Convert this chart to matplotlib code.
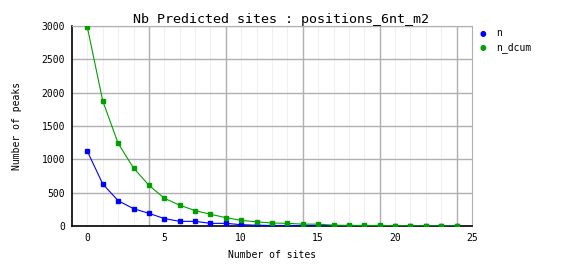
import matplotlib
matplotlib.use("Agg")
import matplotlib.pyplot as plt

# Values
sites = list(range(25))
n = [1120, 630, 380, 260, 190, 112, 70, 70, 40, 40, 20, 12, 8, 8, 5, 5, 3, 2, 0, 0, 2, 1, 1, 0, 1]
n_dcum = [2980, 1875, 1240, 870, 612, 417, 312, 232, 176, 126, 85, 62, 45, 40, 28, 28, 12, 10, 8, 8, 6, 5, 4, 3, 2]
x_ticks = [0, 5, 10, 15, 20, 25]
y_ticks = [0, 500, 1000, 1500, 2000, 2500, 3000]

blue = "#0000ff"
green = "#00a000"
font = "DejaVu Sans Mono"

fig = plt.figure(figsize=(5.62, 2.78), dpi=100)
ax = fig.add_axes([0.1281, 0.187, 0.7117, 0.7194])

# grid: light lines every site, darker every 5 (offset like the original)
for x in sites:
    ax.axvline(x, color="#f0f0f0", lw=0.8, zorder=0)
for x in [4, 9, 14, 19, 24]:
    ax.axvline(x, color="#b0b0b0", lw=1.0, zorder=0)
for y in y_ticks[1:]:
    ax.axhline(y, color="#b0b0b0", lw=1.0, zorder=0)

ax.plot(sites, n, color=blue, lw=0.8, marker="s", ms=2.2, label="n", zorder=3)
ax.plot(sites, n_dcum, color=green, lw=0.8, marker="s", ms=2.2, label="n_dcum", zorder=3)

ax.set_xlim(-1, 25)
ax.set_ylim(0, 3000)
ax.set_xticks(x_ticks)
ax.set_yticks(y_ticks)
ax.tick_params(length=0, labelsize=7, pad=5)
for lab in ax.get_xticklabels() + ax.get_yticklabels():
    lab.set_family(font)

for s in ["top", "right"]:
    ax.spines[s].set_color("#b0b0b0")
for s in ["left", "bottom"]:
    ax.spines[s].set_color("black")
    ax.spines[s].set_linewidth(1.2)

fig.text(0.5, 0.93, "Nb Predicted sites : positions_6nt_m2", family=font,
         fontsize=9.6, ha="center", va="center")
ax.set_xlabel("Number of sites", family=font, fontsize=7, labelpad=5)
ax.set_ylabel("Number of peaks", family=font, fontsize=7, labelpad=14)

# legend outside, markers only
fig.text(0.859, 0.88, "\u25cf", color=blue, fontsize=5.5, va="center", ha="center")
fig.text(0.859, 0.83, "\u25cf", color=green, fontsize=5.5, va="center", ha="center")
fig.text(0.882, 0.88, "n", family=font, fontsize=7, va="center")
fig.text(0.882, 0.83, "n_dcum", family=font, fontsize=7, va="center")

fig.savefig("out.png", dpi=100)
